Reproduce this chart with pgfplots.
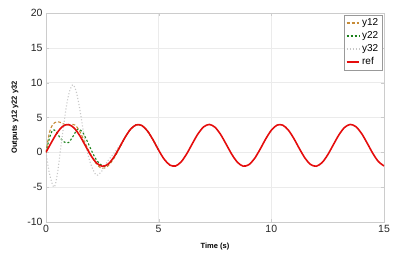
\documentclass[border=0pt]{standalone}
\usepackage{fontspec}
\setmainfont{Liberation Sans}
\usepackage{pgfplots}
\pgfplotsset{compat=1.18}
\definecolor{cy12}{rgb}{0.78,0.55,0.22}
\definecolor{cy22}{rgb}{0.1,0.5,0.1}
\definecolor{cy32}{rgb}{0.78,0.78,0.78}
\definecolor{cref}{rgb}{0.9,0.05,0.05}
\definecolor{frame}{rgb}{0.8,0.8,0.8}
\definecolor{gridc}{rgb}{0.92,0.92,0.92}
\begin{document}
\begin{tikzpicture}
\begin{axis}[
  scale only axis,
  width=338pt, height=209pt,
  xmin=0, xmax=15, ymin=-10, ymax=20,
  xtick={0,5,10,15}, ytick={-10,-5,0,5,10,15,20},
  grid=major,
  major grid style={draw=gridc, line width=0.6pt},
  axis line style={draw=frame, line width=0.8pt},
  tick style={draw=frame},
  major tick length=3pt,
  tick label style={font=\fontsize{10.5}{11}\selectfont, text=black!85},
  /pgf/number format/assume math mode=true,
  xlabel={\textbf{Time (s)}},
  ylabel={\textbf{Outputs y12 y22 y32}},
  xlabel style={font=\fontsize{7.5}{8}\selectfont, yshift=-3pt},
  ylabel style={font=\fontsize{7.5}{8}\selectfont, yshift=2pt},
  legend style={at={(0.994,0.99)}, anchor=north east, font=\fontsize{10}{11}\selectfont, draw=black!40, inner sep=1.5pt, row sep=0.5pt, legend cell align=left},
  legend image code/.code={\draw[#1] (0pt,0pt) -- (0.45cm,0pt);},
]
\addplot[cy12, densely dashed, line width=1.1pt, smooth] coordinates {
(0,0) (0.15,2.8) (0.3,4.0) (0.5,4.4) (0.7,4.2) (0.9,3.9) (1.1,4.0) (1.3,3.9)
(1.5,3.0) (1.7,1.6) (1.9,0.2) (2.1,-1.0) (2.3,-1.9) (2.5,-2.3) (2.7,-2.1)
(2.9,-1.4) (3.1,-0.4) (3.3,0.9) (3.5,2.1) (3.75,3.3) (4.0,3.94) (4.25,3.86)
(4.5,3.08) (4.75,1.79) (5.0,0.30)
};
\addlegendentry{y12}
\addplot[cy22, dashed, dash pattern=on 2pt off 2pt, line width=1.1pt, smooth] coordinates {
(0,0) (0.15,2.0) (0.3,3.2) (0.45,3.0) (0.6,2.2) (0.8,1.5) (1.0,1.4) (1.2,2.3)
(1.4,3.3) (1.6,3.0) (1.8,1.8) (2.0,0.4) (2.2,-0.9) (2.4,-1.7) (2.6,-2.0)
(2.8,-1.6) (3.0,-0.8) (3.25,0.6) (3.5,2.1) (3.75,3.3) (4.0,3.94) (4.25,3.86)
(4.5,3.08) (4.75,1.79) (5.0,0.30)
};
\addlegendentry{y22}
\addplot[cy32, dotted, line width=1.1pt, smooth] coordinates {
(0,0) (0.15,-3.0) (0.35,-5.0) (0.5,-3.2) (0.7,1.8) (0.9,6.5) (1.05,8.8)
(1.2,9.7) (1.35,8.6) (1.5,6.2) (1.7,2.2) (1.9,-0.8) (2.05,-2.2) (2.25,-3.3)
(2.5,-2.6) (2.75,-1.2) (3.0,-0.2) (3.25,0.9) (3.5,2.1) (3.75,3.3) (4.0,3.94)
(4.25,3.86) (4.5,3.08) (4.75,1.79) (5.0,0.30)
};
\addlegendentry{y32}
\addplot[cref, line width=1.6pt, smooth] coordinates {
(0,0.00) (0.25,1.48) (0.5,2.84) (0.75,3.75) (1.0,3.99) (1.25,3.49) (1.5,2.39)
(1.75,0.94) (2.0,-0.49) (2.25,-1.55) (2.5,-2.00) (2.75,-1.71) (3.0,-0.75)
(3.25,0.63) (3.5,2.10) (3.75,3.31) (4.0,3.94) (4.25,3.86) (4.5,3.08)
(4.75,1.79) (5.0,0.30) (5.25,-1.01) (5.5,-1.83) (5.75,-1.96) (6.0,-1.36)
(6.25,-0.19) (6.5,1.28) (6.75,2.68) (7.0,3.66) (7.25,4.00) (7.5,3.60)
(7.75,2.56) (8.0,1.14) (8.25,-0.31) (8.5,-1.44) (8.75,-1.98) (9.0,-1.78)
(9.25,-0.91) (9.5,0.43) (9.75,1.92) (10.0,3.17) (10.25,3.90) (10.5,3.91)
(10.75,3.22) (11.0,1.98) (11.25,0.50) (11.5,-0.86) (11.75,-1.76) (12.0,-1.99)
(12.25,-1.48) (12.5,-0.37) (12.75,1.08) (13.0,2.51) (13.25,3.57) (13.5,4.00)
(13.75,3.69) (14.0,2.73) (14.25,1.34) (14.5,-0.13) (14.75,-1.32) (15.0,-1.95)
};
\addlegendentry{ref}
\end{axis}
\path ([shift={(-46pt,-44pt)}]current axis.south west) rectangle ([shift={(15pt,13pt)}]current axis.north east);
\end{tikzpicture}
\end{document}
